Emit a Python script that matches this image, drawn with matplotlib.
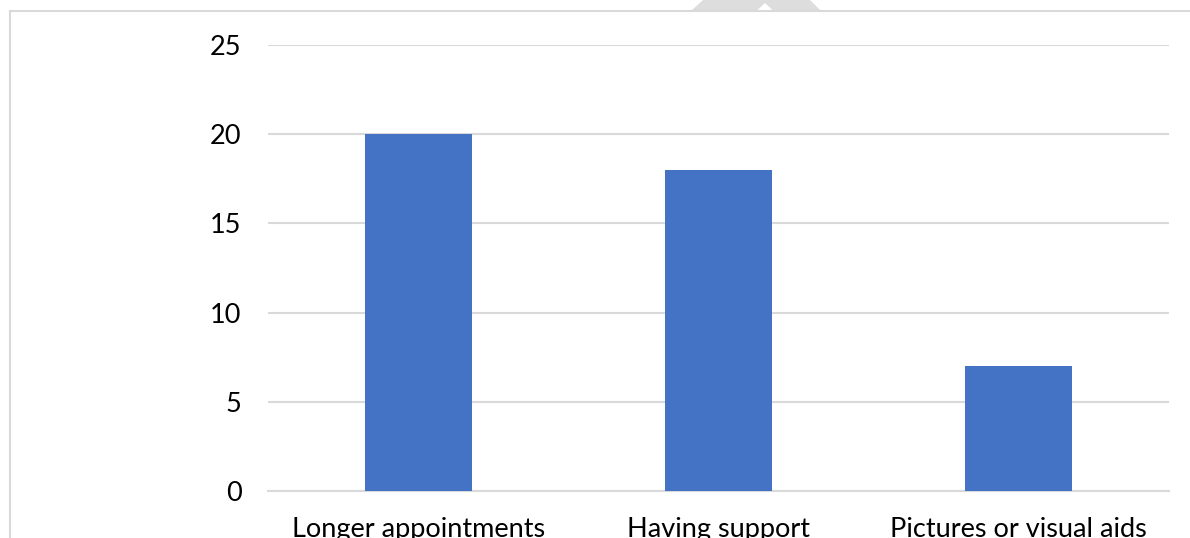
import matplotlib
matplotlib.use('Agg')
import matplotlib.pyplot as plt
from matplotlib.patches import Polygon
from matplotlib.lines import Line2D

# data
categories = ['Longer appointments', 'Having support', 'Pictures or visual aids']
counts = [20, 18, 7]
yticks = [0, 5, 10, 15, 20, 25]

W, H = 1190, 538
plt.rcParams['font.family'] = ['Lato', 'DejaVu Sans']

fig = plt.figure(figsize=(W / 100, H / 100), dpi=100)
ax = fig.add_axes([268 / W, 1 - 491 / H, 901 / W, (491 - 44.8) / H])

x = range(len(categories))
ax.bar(x, counts, width=0.356, color='#4472C4', zorder=3)

ax.set_xlim(-0.5, len(categories) - 0.5)
ax.set_ylim(0, 25)
ax.set_yticks(yticks)
ax.set_xticks(list(x))
ax.set_xticklabels(categories)
ax.yaxis.grid(True, color='#d9d9d9', linewidth=1.5, zorder=0)
for s in ['top', 'right', 'left']:
    ax.spines[s].set_visible(False)
ax.spines['bottom'].set_color('#d9d9d9')
ax.spines['bottom'].set_linewidth(1.5)
ax.tick_params(axis='both', length=0, labelsize=19.5, colors='black')
ax.tick_params(axis='y', pad=19)
ax.tick_params(axis='x', pad=19)

# outer frame (top and left edges only visible)
def px(xp, yp):
    return (xp / W, 1 - yp / H)

fig.add_artist(Line2D([9.7 / W, 1], [1 - 10.7 / H] * 2, transform=fig.transFigure,
                      color='#d9d9d9', linewidth=1.5))
fig.add_artist(Line2D([9.7 / W] * 2, [0, 1 - 10.7 / H], transform=fig.transFigure,
                      color='#d9d9d9', linewidth=1.5))

# faint watermark fragment at the top
fig.add_artist(Polygon([px(692, 10), px(703, 0), px(810, 0), px(820, 10)],
                       closed=True, transform=fig.transFigure,
                       facecolor='#dddddd', edgecolor='none'))
fig.add_artist(Polygon([px(757, 10.5), px(765, 3), px(773, 10.5)],
                       closed=True, transform=fig.transFigure,
                       facecolor='white', edgecolor='none'))

fig.savefig('out.png', dpi=100)
